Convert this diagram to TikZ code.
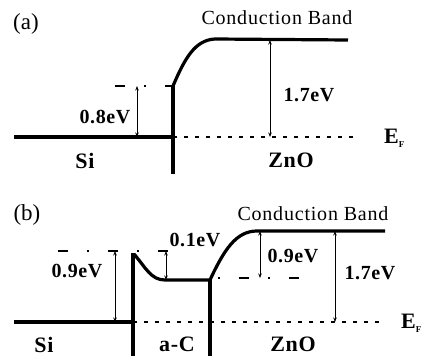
\documentclass[tikz,border=0pt]{standalone}
\usepackage{fontspec}
\setmainfont{Liberation Serif}
\usetikzlibrary{arrows.meta}
\tikzset{
  band/.style={line width=3.2pt, line join=round},
  iface/.style={line width=3.8pt},
  gap/.style={line width=0.8pt, {Stealth[length=4.5pt,width=3.5pt]}-{Stealth[length=4.5pt,width=3.5pt]}},
  fermi/.style={line width=1.2pt, dash pattern=on 3.5pt off 7.5pt},
  vac/.style={line width=1.2pt, dash pattern=on 10pt off 19pt on 2pt off 19pt},
  lbl/.style={font=\fontsize{22}{24}\selectfont\bfseries\addfontfeatures{LetterSpace=3}, inner sep=0pt},
  ev/.style={font=\fontsize{20}{22}\selectfont\bfseries\addfontfeatures{LetterSpace=3}, inner sep=0pt},
  cb/.style={font=\fontsize{20}{22}\selectfont\addfontfeatures{LetterSpace=4}, inner sep=0pt},
  tag/.style={font=\fontsize{23}{25}\selectfont, inner sep=0pt},
}
\newcommand{\EF}{{\fontsize{22}{22}\selectfont\bfseries E}\raisebox{-4pt}{\fontsize{9}{9}\selectfont\bfseries F}}
\begin{document}
\begin{tikzpicture}[x=1pt,y=-1pt]
\useasboundingbox (0,0) rectangle (424,356);
% ---------------- panel (a) ----------------
\node[tag] (ta) at (26,24) {(a)};
\coordinate (aSiL) at (14,137);
\coordinate (aI) at (173,137);
\coordinate (aItop) at (173,86);
\coordinate (aIbot) at (173,174);
\coordinate (aCB1) at (215,39);
\coordinate (aCB2) at (348,40);
\draw[band] (aSiL) -- (aI);
\draw[iface] (aItop) -- (aIbot);
\draw[band] (aItop) .. controls (185,58) and (195,40) .. (aCB1) -- (aCB2);
\coordinate (aV1) at (115,86);
\draw[vac] (aV1) -- (aItop);
\coordinate (aA1t) at (137,86);
\coordinate (aA1b) at (137,137);
\draw[gap] (aA1t) -- (aA1b);
\node[ev] (a08) at (105,117) {0.8eV};
\coordinate (aA2t) at (270,40);
\coordinate (aA2b) at (270,137);
\coordinate (aEFr) at (355,137);
\draw[fermi] (aI) -- (aEFr);
\draw[gap] (aA2t) -- (aA2b);
\node[ev] (a17) at (309,95) {1.7eV};
\node[inner sep=0pt, anchor=west] (aEF) at (384,138) {\EF};
\node[lbl] (aSi) at (85,161) {Si};
\node[lbl] (aZnO) at (291,160) {ZnO};
\node[cb] (aCB) at (277,18) {Conduction Band};
% ---------------- panel (b) ----------------
\node[tag] (tb) at (27,215) {(b)};
\coordinate (bSiL) at (14,322);
\coordinate (bI1) at (133,322);
\coordinate (bI1top) at (133,253);
\coordinate (bI1bot) at (133,356);
\coordinate (bAC1) at (165,280);
\coordinate (bI2top) at (210,280);
\coordinate (bI2bot) at (210,356);
\coordinate (bCB1) at (257,231);
\coordinate (bCB2) at (385,231);
\draw[band] (bSiL) -- (bI1);
\draw[iface] (bI1top) -- (bI1bot);
\draw[iface] (bI2top) -- (bI2bot);
\draw[band] (134,254) .. controls (146,268) and (151,280) .. (bAC1) -- (bI2top);
\draw[band] (bI2top) .. controls (224,250) and (236,231) .. (bCB1) -- (bCB2);
\coordinate (bV1) at (58,251);
\coordinate (bV2) at (168,251);
\draw[vac] (bV1) -- (bV2);
\coordinate (bV3) at (212,278);
\coordinate (bV4) at (300,278);
\draw[vac, dash phase=23pt] (bV3) -- (bV4);
\coordinate (bEFr) at (380,322);
\draw[fermi] (bI1) -- (bEFr);
\coordinate (bA1t) at (115,251);
\coordinate (bA1b) at (115,322);
\draw[gap] (bA1t) -- (bA1b);
\node[ev] (b09a) at (77,271) {0.9eV};
\coordinate (bA2t) at (166,251);
\coordinate (bA2b) at (166,280);
\draw[gap] (bA2t) -- (bA2b);
\node[ev] (b01) at (195,240) {0.1eV};
\coordinate (bA3t) at (260,231);
\coordinate (bA3b) at (260,278);
\draw[gap] (bA3t) -- (bA3b);
\node[ev] (b09b) at (293,256) {0.9eV};
\coordinate (bA4t) at (335,231);
\coordinate (bA4b) at (335,322);
\draw[gap] (bA4t) -- (bA4b);
\node[ev] (b17) at (370,273) {1.7eV};
\node[inner sep=0pt, anchor=west] (bEF) at (401,323) {\EF};
\node[lbl] (bSi) at (44,345) {Si};
\node[lbl] (baC) at (177,344) {a-C};
\node[lbl] (bZnO) at (293,344) {ZnO};
\node[cb] (bCB) at (313,214) {Conduction Band};
\end{tikzpicture}
\end{document}
